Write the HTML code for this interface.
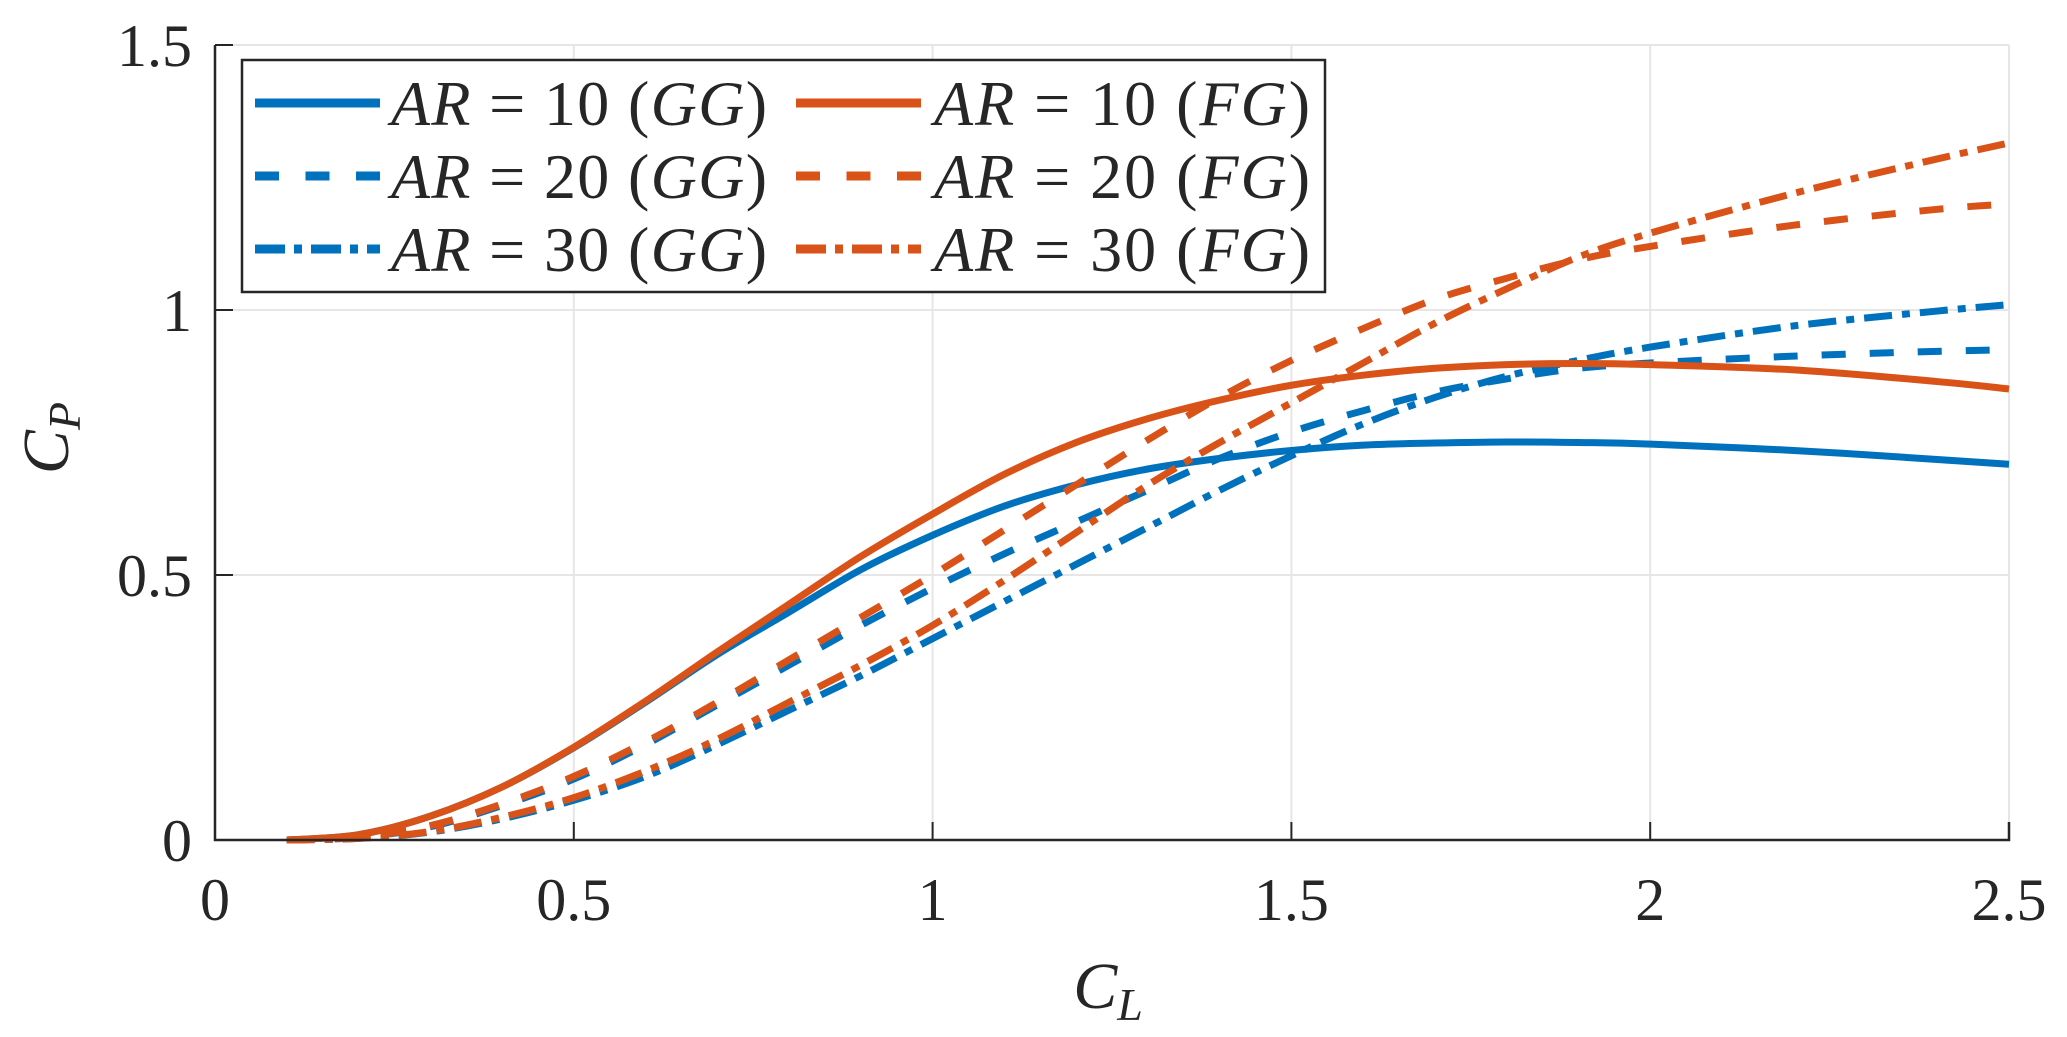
<!DOCTYPE html>
<html><head><meta charset="utf-8"><style>
html,body{margin:0;padding:0;background:#fff;}
svg{display:block;}
text{font-family:"Liberation Serif",serif;fill:#262626;}
</style></head><body>
<svg id="chart" width="2067" height="1037" viewBox="0 0 2067 1037">
<g id="grid"></g>
<g id="series"></g>
<g id="axes"></g>
<g id="legend"></g>
<text transform="translate(68,438) rotate(-90)" text-anchor="middle" font-size="66" font-style="italic">C<tspan font-size="46" dy="12">P</tspan></text>
<text x="1108" y="1008" text-anchor="middle" font-size="66" font-style="italic">C<tspan font-size="46" dy="12">L</tspan></text>
</svg>
<script>
const xs = [0.1,0.2,0.3,0.4,0.5,0.6,0.7,0.8,0.9,1.0,1.1,1.2,1.3,1.4,1.5,1.6,1.7,1.8,1.9,2.0,2.2,2.4,2.5];
const ar10GG = [0,0.01,0.045,0.1,0.174,0.26,0.35,0.43,0.51,0.575,0.63,0.67,0.70,0.72,0.735,0.745,0.749,0.751,0.75,0.747,0.735,0.718,0.709];
const ar20GG = [0,0.005,0.025,0.065,0.115,0.18,0.255,0.33,0.405,0.475,0.54,0.6,0.66,0.72,0.77,0.81,0.845,0.87,0.89,0.9,0.913,0.922,0.925];
const ar30GG = [0,0.003,0.015,0.04,0.075,0.12,0.18,0.245,0.31,0.38,0.45,0.52,0.59,0.66,0.725,0.785,0.835,0.875,0.905,0.93,0.97,0.998,1.01];
const ar10FG = [0,0.01,0.045,0.1,0.175,0.262,0.355,0.445,0.535,0.615,0.69,0.75,0.795,0.83,0.858,0.877,0.89,0.897,0.899,0.897,0.887,0.865,0.851];
const ar20FG = [0,0.005,0.027,0.068,0.12,0.185,0.26,0.34,0.42,0.5,0.585,0.67,0.755,0.835,0.905,0.965,1.02,1.06,1.095,1.12,1.16,1.19,1.2];
const ar30FG = [0,0.003,0.016,0.043,0.08,0.13,0.19,0.26,0.33,0.405,0.49,0.58,0.67,0.75,0.825,0.9,0.975,1.04,1.1,1.145,1.22,1.285,1.315];
const xTicks = [0,0.5,1,1.5,2,2.5];
const xTickLabels = ["0","0.5","1","1.5","2","2.5"];
const yTicks = [0,0.5,1,1.5];
const yTickLabels = ["0","0.5","1","1.5"];
const seriesNames = ["AR = 10 (GG)","AR = 20 (GG)","AR = 30 (GG)","AR = 10 (FG)","AR = 20 (FG)","AR = 30 (FG)"];

const NS="http://www.w3.org/2000/svg";
const L=215,R=2009,T=45,B=840;
const X=v=>L+(v/2.5)*(R-L);
const Y=v=>B-(v/1.5)*(B-T);
function mk(tag,attrs,parent){const e=document.createElementNS(NS,tag);for(const k in attrs)e.setAttribute(k,attrs[k]);parent.appendChild(e);return e;}
const grid=document.getElementById('grid'),axes=document.getElementById('axes'),ser=document.getElementById('series'),leg=document.getElementById('legend');
xTicks.forEach((t,i)=>{
  const g=mk('line',{x1:X(t),x2:X(t),y1:T,y2:B,stroke:'#e6e6e6','stroke-width':2},grid);
  
  
  const tk=mk('line',{x1:X(t),x2:X(t),y1:B,y2:B-18,stroke:'#262626','stroke-width':2},axes);
  
  
  const tx=mk('text',{x:X(t),y:920,'text-anchor':'middle','font-size':60},axes);
  tx.textContent=xTickLabels[i];
  
  
});
yTicks.forEach((t,i)=>{
  const g=mk('line',{x1:L,x2:R,y1:Y(t),y2:Y(t),stroke:'#e6e6e6','stroke-width':2},grid);
  
  
  const tk=mk('line',{x1:L,x2:L+18,y1:Y(t),y2:Y(t),stroke:'#262626','stroke-width':2},axes);
  
  
  const tx=mk('text',{x:192,y:Y(t)+21,'text-anchor':'end','font-size':60},axes);
  tx.textContent=yTickLabels[i];
  
  
});
const ax=mk('path',{d:`M${L},${T} L${L},${B} L${R},${B} L${R},${B-18}`,fill:'none',stroke:'#262626','stroke-width':2.5},axes);



const BLUE='#0072BD',ORANGE='#D95319';
const dashes=['none','24 24','28 10 8 10'];
const data=[ar10GG,ar20GG,ar30GG,ar10FG,ar20FG,ar30FG];
const colors=[BLUE,BLUE,BLUE,ORANGE,ORANGE,ORANGE];
const slugs=['ar10-gg','ar20-gg','ar30-gg','ar10-fg','ar20-fg','ar30-fg'];
function smooth(pts){let d=`M${pts[0][0]},${pts[0][1]}`;for(let i=0;i<pts.length-1;i++){const p0=pts[Math.max(0,i-1)],p1=pts[i],p2=pts[i+1],p3=pts[Math.min(pts.length-1,i+2)];
const c1=[p1[0]+(p2[0]-p0[0])/6,p1[1]+(p2[1]-p0[1])/6],c2=[p2[0]-(p3[0]-p1[0])/6,p2[1]-(p3[1]-p1[1])/6];
d+=` C${c1[0]},${c1[1]} ${c2[0]},${c2[1]} ${p2[0]},${p2[1]}`;}return d;}
data.forEach((ys,k)=>{
  const pts=xs.map((x,i)=>[X(x),Y(ys[i])]);
  const p=mk('path',{d:smooth(pts),fill:'none',stroke:colors[k],'stroke-width':7,'stroke-dasharray':dashes[k%3]},ser);
  
  
});
const box=mk('rect',{x:242,y:60,width:1083,height:232,fill:'#fff',stroke:'#262626','stroke-width':2.5},leg);


const rowsY=[103,176,249];
for(let k=0;k<6;k++){
  const col=k<3?0:1,row=k%3;
  const lx=col?796:255, tx=col?934:391;
  const g=mk('g',{},leg);
  
  
  mk('line',{x1:lx,x2:lx+125,y1:rowsY[row],y2:rowsY[row],stroke:colors[k],'stroke-width':9,'stroke-dasharray':row==1?'24 26.5':(row==2?'30 9 8 9':'none')},g);
  const parts=seriesNames[k].match(/AR = (\d+) \((\w+)\)/);
  const t=mk('text',{x:tx,y:rowsY[row]+22,'font-size':64,textLength:376,lengthAdjust:'spacing'},g);
  t.innerHTML=`<tspan font-style="italic">AR</tspan> = ${parts[1]} (<tspan font-style="italic">${parts[2]}</tspan>)`;
}
</script>
</body></html>
